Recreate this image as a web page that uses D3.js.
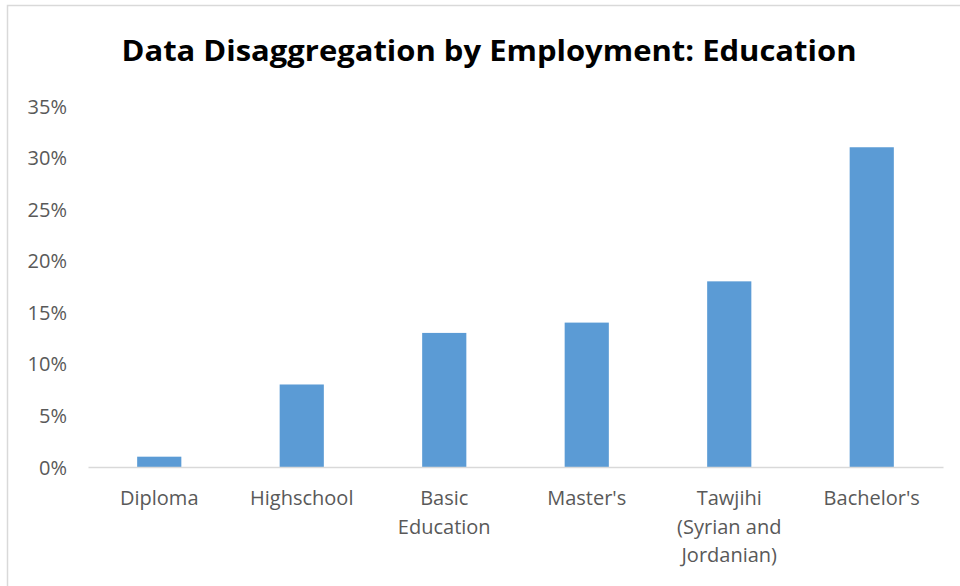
<!DOCTYPE html>
<html>
<head>
<meta charset="utf-8">
<script src="https://cdn.jsdelivr.net/npm/d3@7"></script>
<style>
  html, body { margin: 0; padding: 0; background: #fff; }
  svg { display: block; }
</style>
</head>
<body>
<svg id="chart" width="960" height="586"></svg>
<script>
const categories = ["Diploma", "Highschool", "Basic Education", "Master's", "Tawjihi (Syrian and Jordanian)", "Bachelor's"];
const categoryLines = [["Diploma"], ["Highschool"], ["Basic", "Education"], ["Master's"], ["Tawjihi", "(Syrian and", "Jordanian)"], ["Bachelor's"]];
const values = [0.01, 0.08, 0.13, 0.14, 0.18, 0.31];
const yTicks = [0, 0.05, 0.10, 0.15, 0.20, 0.25, 0.30, 0.35];
const titleText = "Data Disaggregation by Employment: Education";

const svg = d3.select("#chart");
const font = "'Open Sans', 'Noto Sans', sans-serif";

// outer chart frame
svg.append("rect")
  .attr("x", 7.5).attr("y", 5.5)
  .attr("width", 1000).attr("height", 700)
  .attr("fill", "#fff").attr("stroke", "#d9d9d9").attr("stroke-width", 1.5);

const plot = { left: 88, right: 943, top: 106, bottom: 467 };

const x = d3.scaleBand().domain(categories).range([plot.left, plot.right]).paddingInner(0.69).paddingOuter(0.345);
const y = d3.scaleLinear().domain([0, 0.35]).range([plot.bottom, plot.top]);

// title
svg.append("text")
  .attr("x", 489).attr("y", 61)
  .attr("text-anchor", "middle")
  .attr("font-family", font).attr("font-weight", "bold")
  .attr("font-size", 29).attr("fill", "#000")
  .attr("textLength", 735).attr("lengthAdjust", "spacingAndGlyphs")
  .text(titleText);

// y axis labels
const yAxis = d3.axisLeft(y).tickValues(yTicks).tickFormat(d3.format(".0%")).tickSize(0).tickPadding(0);
const yg = svg.append("g").attr("transform", `translate(67,0)`).call(yAxis);
yg.select(".domain").remove();
yg.selectAll("text")
  .attr("font-family", font).attr("font-size", 20).attr("fill", "#595959")
  .attr("dy", "0.35em");

// bars
svg.append("g").selectAll("rect")
  .data(values)
  .join("rect")
  .attr("x", (d, i) => x(categories[i]))
  .attr("y", d => y(d))
  .attr("width", x.bandwidth())
  .attr("height", d => y(0) - y(d))
  .attr("fill", "#5b9bd5");

// baseline
const xAxis = d3.axisBottom(x).tickSize(0).tickFormat("");
const xg = svg.append("g").attr("transform", `translate(0,${plot.bottom})`).call(xAxis);
xg.select(".domain").attr("stroke", "#d9d9d9").attr("stroke-width", 1.5);

// category labels
const labels = svg.append("g").selectAll("text")
  .data(categories)
  .join("text")
  .attr("x", d => x(d) + x.bandwidth() / 2)
  .attr("y", 505)
  .attr("text-anchor", "middle")
  .attr("font-family", font).attr("font-size", 20).attr("fill", "#595959");
labels.each(function(d, i) {
  const t = d3.select(this);
  categoryLines[i].forEach((line, j) => {
    t.append("tspan").attr("x", x(d) + x.bandwidth() / 2).attr("dy", j === 0 ? 0 : 28.5).text(line);
  });
});
</script>
</body>
</html>
